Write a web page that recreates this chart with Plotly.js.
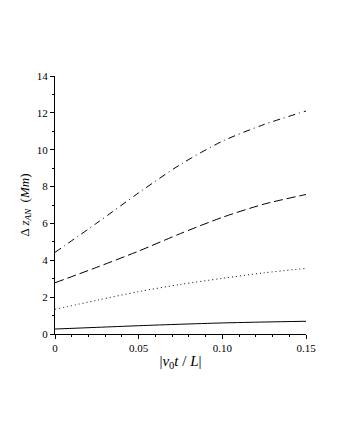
<!DOCTYPE html>
<html><head><meta charset="utf-8">
<script src="https://cdn.plot.ly/plotly-3.0.1.min.js"></script>
<style>html,body{margin:0;padding:0;background:#fff}#c{width:340px;height:440px}</style>
</head><body><div id="c"></div>
<script>
const x = [0, 0.025, 0.05, 0.075, 0.10, 0.125, 0.15];
const ySolid = [0.27, 0.36, 0.45, 0.53, 0.60, 0.65, 0.69];
const yDotted = [1.34, 1.83, 2.30, 2.69, 3.02, 3.32, 3.56];
const yDashed = [2.78, 3.62, 4.50, 5.45, 6.33, 7.05, 7.57];
const yDashDot = [4.43, 6.02, 7.66, 9.20, 10.46, 11.37, 12.10];
const xTicks = [0, 0.05, 0.10, 0.15];
const xTickText = ['0', '0.05', '0.10', '0.15'];

const mk = (y, dash) => ({x: x, y: y, mode: 'lines', line: {color: '#000', width: 1, dash: dash, shape: 'spline', smoothing: 0.8}, hoverinfo: 'skip', showlegend: false});
const data = [
  mk(ySolid, 'solid'),
  mk(yDotted, '1px,3px'),
  mk(yDashed, '9px,4px'),
  mk(yDashDot, '7px,4px,1px,4px')
];
const font = {family: 'Liberation Serif, Times New Roman, serif', size: 11, color: '#000'};
const layout = {
  width: 340, height: 440,
  margin: {l: 55, r: 34, t: 76, b: 106},
  paper_bgcolor: '#fff', plot_bgcolor: '#fff',
  font: font,
  xaxis: {
    range: [0, 0.15], showgrid: false, zeroline: false, showline: true, linecolor: '#000', linewidth: 1,
    tickmode: 'array', tickvals: xTicks, ticktext: xTickText, ticks: 'outside', ticklen: 4, tickcolor: '#000',
    minor: {dtick: 0.01, ticks: 'outside', ticklen: 2, tickcolor: '#000'},
    tickfont: font,
    title: {text: '|<i>v</i><sub>0</sub><i>t</i> / <i>L</i>|', font: {family: font.family, size: 15, color: '#000'}, standoff: 2}
  },
  yaxis: {
    range: [0, 14], showgrid: false, zeroline: false, showline: true, linecolor: '#000', linewidth: 1,
    dtick: 2, ticks: 'outside', ticklen: 4, tickcolor: '#000',
    minor: {dtick: 1, ticks: 'outside', ticklen: 2, tickcolor: '#000'},
    tickfont: font,
    title: {text: 'Δ <i>z</i><sub><i>AN</i></sub>  (<i>Mm</i>)', font: {family: font.family, size: 13, color: '#000'}, standoff: 4}
  }
};
Plotly.newPlot('c', data, layout, {staticPlot: true, displayModeBar: false});
</script></body></html>
